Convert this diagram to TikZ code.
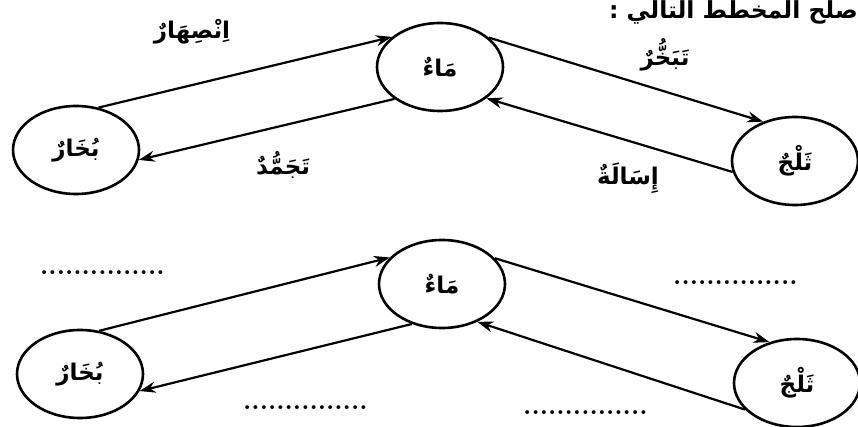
\documentclass[tikz,border=0pt]{standalone}
\usepackage{fontspec}
\usetikzlibrary{shapes.geometric,arrows.meta}
\newfontfamily\arabicfont[Script=Arabic]{DejaVu Sans}
\TeXXeTstate=1
\newcommand\artext[1]{\beginR #1\endR}
\tikzset{
 state/.style={ellipse, draw, line width=2.6pt, minimum width=126pt, minimum height=88pt, inner sep=0pt,
   font=\arabicfont\bfseries\fontsize{23}{26}\selectfont},
 flow/.style={line width=2.2pt, -{Stealth[length=16pt,width=11pt]}},
 lbl/.style={font=\arabicfont\bfseries\fontsize{23}{26}\selectfont, inner sep=0pt},
 ttl/.style={font=\arabicfont\bfseries\fontsize{23.5}{26}\selectfont, inner sep=0pt, anchor=east},
 blank/.style={font=\bfseries\fontsize{26.5}{30}\selectfont, inner sep=0pt, anchor=base west},
}
\begin{document}
\begin{tikzpicture}[x=1pt,y=-1pt]
\fill[white] (0,0) rectangle (858,427);
\useasboundingbox (0,0) rectangle (858,427);
% title
\node[ttl] (title) at (858,12) {\artext{صلح المخطط التالي :}};
% top row
\node[state] (b1) at (76,150) {\artext{بُخَارٌ}};
\node[state] (m1) at (440,67) {\artext{مَاءٌ}};
\node[state] (t1) at (795,161) {\artext{ثَلْجٌ}};
\draw[flow] (b1.62) -- (m1.148);
\draw[flow] (m1.215) -- (b1.-9);
\draw[flow] (m1.31) -- (t1.129);
\draw[flow] (t1.190) -- (m1.326);
\node[lbl] (l1) at (192,32) {\artext{اِنْصِهَارٌ}};
\node[lbl] (l2) at (665,55) {\artext{تَبَخُّرٌ}};
\node[lbl] (l3) at (283,165) {\artext{تَجَمُّدٌ}};
\node[lbl] (l4) at (628,178) {\artext{إِسَالَةٌ}};
% bottom row
\node[state] (b2) at (80,374) {\artext{بُخَارٌ}};
\node[state] (m2) at (442,284) {\artext{مَاءٌ}};
\node[state] (t2) at (797,383) {\artext{ثَلْجٌ}};
\draw[flow] (b2.66) -- (m2.153);
\draw[flow] (m2.233) -- (b2.-16);
\draw[flow] (m2.26) -- (t2.124);
\draw[flow] (t2.207) -- (m2.313);
\node[blank] (d1) at (40,274) {...............};
\node[blank] (d2) at (673,284) {...............};
\node[blank] (d3) at (243,409) {...............};
\node[blank] (d4) at (523,414) {...............};
\end{tikzpicture}
\end{document}
